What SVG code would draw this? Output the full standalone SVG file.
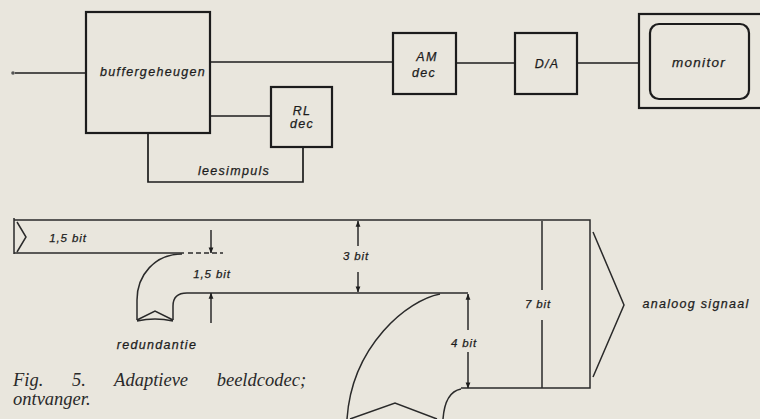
<svg xmlns="http://www.w3.org/2000/svg" width="760" height="419" viewBox="0 0 760 419">
<defs>
<marker id="ah" viewBox="0 0 8 8" refX="7.5" refY="4" markerWidth="6" markerHeight="6" orient="auto" markerUnits="userSpaceOnUse">
<path d="M0,0.8 L8,4 L0,7.2 z" fill="#1e1e1e"/>
</marker>
</defs>
<style>
.bx{fill:none;stroke:#1c1c1c;stroke-width:2.2}
.ln{fill:none;stroke:#1c1c1c;stroke-width:1.7}
.th{fill:none;stroke:#2a2a2a;stroke-width:1.5}
.lb{font-family:"Liberation Sans",Arial,sans-serif;font-style:italic;font-size:12.5px;fill:#1c1c1c;stroke:#1c1c1c;stroke-width:0.25;letter-spacing:1.3px;text-anchor:middle}
.bt{font-size:11.5px;letter-spacing:0.9px}
.cap{font-family:"Liberation Serif","Times New Roman",serif;font-style:italic;font-size:18.5px;fill:#2a2a2a}
</style>
<rect width="760" height="419" fill="#e9e6dd"/>

<g id="connectors">
<circle cx="13" cy="73" r="1.8" fill="#555"/>
<path class="ln" d="M15,73 H86"/>
<path class="ln" d="M210,62 H393"/>
<path class="ln" d="M210,116 H271"/>
<path class="ln" d="M148,134 V182 H303 V147"/>
<path class="ln" d="M456,63 H515"/>
<path class="ln" d="M577,63 H639"/>
</g>

<g id="buffergeheugen">
<rect class="bx" x="86" y="12" width="124" height="121"/>
<text class="lb" x="153" y="76">buffergeheugen</text>
</g>
<g id="rldec">
<rect class="bx" x="271" y="87" width="61" height="60"/>
<text class="lb" x="302" y="115">RL</text>
<text class="lb" x="302" y="128">dec</text>
</g>
<text class="lb" x="234" y="175">leesimpuls</text>
<g id="amdec">
<rect class="bx" x="393" y="33" width="63" height="61"/>
<text class="lb" x="427" y="61">AM</text>
<text class="lb" x="424" y="77">dec</text>
</g>
<g id="da">
<rect class="bx" x="515" y="33" width="62" height="61"/>
<text class="lb" x="547" y="68">D/A</text>
</g>
<g id="monitor">
<rect class="bx" x="639" y="14" width="130" height="94"/>
<rect class="bx" x="650" y="24" width="99" height="75" rx="9"/>
<text class="lb" x="699" y="67" style="font-size:13.5px">monitor</text>
</g>

<g id="bitstream">
<path class="th" d="M14,218 V254 M14,220 H590 V388 H461"/>
<path class="th" d="M14,253 H184"/>
<path class="th" d="M188,253 H223" stroke-dasharray="5,3"/>
<path class="th" d="M17,222 L26,237 L17,252"/>
<path class="th" d="M182,254 C155,254 137,275 137,300 V320"/>
<path class="th" d="M187,293 C178,293 173,297 173,306 V320"/>
<path class="th" d="M137,320 L155,311 L173,320 M137,321 Q155,317 173,321"/>
<path class="th" d="M187,293 H468"/>
<path class="th" d="M440,294 C408,300 352,345 347,419"/>
<path class="th" d="M461,389 Q445,392 443,419"/>
<path class="th" d="M350,419 L395,403 L437,419"/>
<path class="th" d="M593,232 L624,305 L593,377"/>
<path class="th" d="M542,221 V290 M542,320 V388"/>
<path class="th" d="M211,230 V253" marker-end="url(#ah)"/>
<path class="th" d="M211,323 V293" marker-end="url(#ah)"/>
<path class="th" d="M358,246 V221" marker-end="url(#ah)"/>
<path class="th" d="M358,272 V292" marker-end="url(#ah)"/>
<path class="th" d="M468,330 V294" marker-end="url(#ah)"/>
<path class="th" d="M468,352 V388" marker-end="url(#ah)"/>
<text class="lb bt" x="68" y="242">1,5 bit</text>
<text class="lb bt" x="212" y="278">1,5 bit</text>
<text class="lb bt" x="356" y="260">3 bit</text>
<text class="lb bt" x="538" y="308">7 bit</text>
<text class="lb bt" x="464" y="347">4 bit</text>
<text class="lb" x="696" y="308">analoog signaal</text>
<text class="lb" x="157" y="349">redundantie</text>
</g>

<text class="cap" x="13" y="386" word-spacing="24">Fig. 5. Adaptieve beeldcodec;</text>
<text class="cap" x="13" y="405">ontvanger.</text>
</svg>
